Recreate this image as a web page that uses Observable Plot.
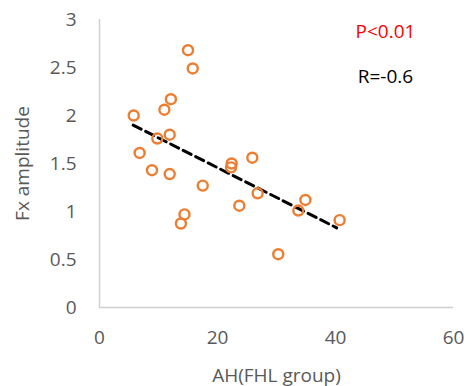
<!DOCTYPE html>
<html>
<head>
<meta charset="utf-8">
<script src="https://cdn.jsdelivr.net/npm/d3@7"></script>
<script src="https://cdn.jsdelivr.net/npm/@observablehq/plot@0.6"></script>
<style>
  html, body { margin: 0; padding: 0; background: #fff; }
  #chart svg { display: block; }
</style>
</head>
<body>
<div id="chart"></div>
<script>
const ahValues = [5.8, 15.0, 15.8, 12.1, 11.0, 11.9, 9.8, 6.8, 8.9, 11.9, 17.5, 22.4, 22.3, 25.9, 26.8, 23.7, 14.4, 13.8, 30.3, 34.9, 33.7, 40.7];
const fxValues = [2.0, 2.68, 2.49, 2.17, 2.06, 1.80, 1.76, 1.61, 1.43, 1.39, 1.27, 1.50, 1.46, 1.56, 1.19, 1.06, 0.97, 0.875, 0.555, 1.12, 1.01, 0.91];
const trendX = [5.7, 40.2];
const trendY = [1.90, 0.83];
const xTicks = [0, 20, 40, 60];
const yTicks = [0, 0.5, 1, 1.5, 2, 2.5, 3];
const annotations = ["P<0.01", "R=-0.6"];

const points = ahValues.map((x, i) => ({x, y: fxValues[i]}));
const trend = trendX.map((x, i) => ({x, y: trendY[i]}));

const font = "Open Sans, Liberation Sans, sans-serif";
const fs = 19;

const chart = Plot.plot({
  width: 472,
  height: 386,
  marginLeft: 99,
  marginRight: 19,
  marginTop: 19,
  marginBottom: 79,
  style: {fontFamily: font, fontSize: fs + "px", color: "#595959", background: "#fff"},
  x: {domain: [0, 60], ticks: xTicks, tickSize: 0, tickPadding: 22, label: null},
  y: {domain: [0, 3], ticks: yTicks, tickSize: 0, tickPadding: 23, label: null},
  marks: [
    Plot.axisX({ticks: xTicks, tickSize: 0, tickPadding: 23, fontSize: fs, fill: "#595959", label: "AH(FHL group)", labelAnchor: "center", labelOffset: 74, labelArrow: "none"}),
    Plot.axisY({ticks: yTicks, tickSize: 0, tickPadding: 23, fontSize: fs, fill: "#595959", tickFormat: d => String(d), label: "Fx amplitude", labelAnchor: "center", labelOffset: 84, labelArrow: "none"}),
    Plot.ruleY([0], {stroke: "#d0d0d0", strokeWidth: 1.5}),
    Plot.ruleX([0], {stroke: "#d0d0d0", strokeWidth: 1.5}),
    Plot.line(trend, {x: "x", y: "y", stroke: "#000", strokeWidth: 3, strokeDasharray: "9,5"}),
    Plot.dot(points, {x: "x", y: "y", r: 5, stroke: "#ED7D31", strokeWidth: 2.4, fill: "none"}),
    Plot.text([annotations[0]], {frameAnchor: "top-right", text: d => d, dx: -68, dy: 12, fill: "#FF0000", fontSize: fs, textAnchor: "middle", lineAnchor: "middle"}),
    Plot.text([annotations[1]], {frameAnchor: "top-right", text: d => d, dx: -68, dy: 57, fill: "#000", fontSize: fs, textAnchor: "middle", lineAnchor: "middle"})
  ]
});
document.getElementById("chart").appendChild(chart);
</script>
</body>
</html>
